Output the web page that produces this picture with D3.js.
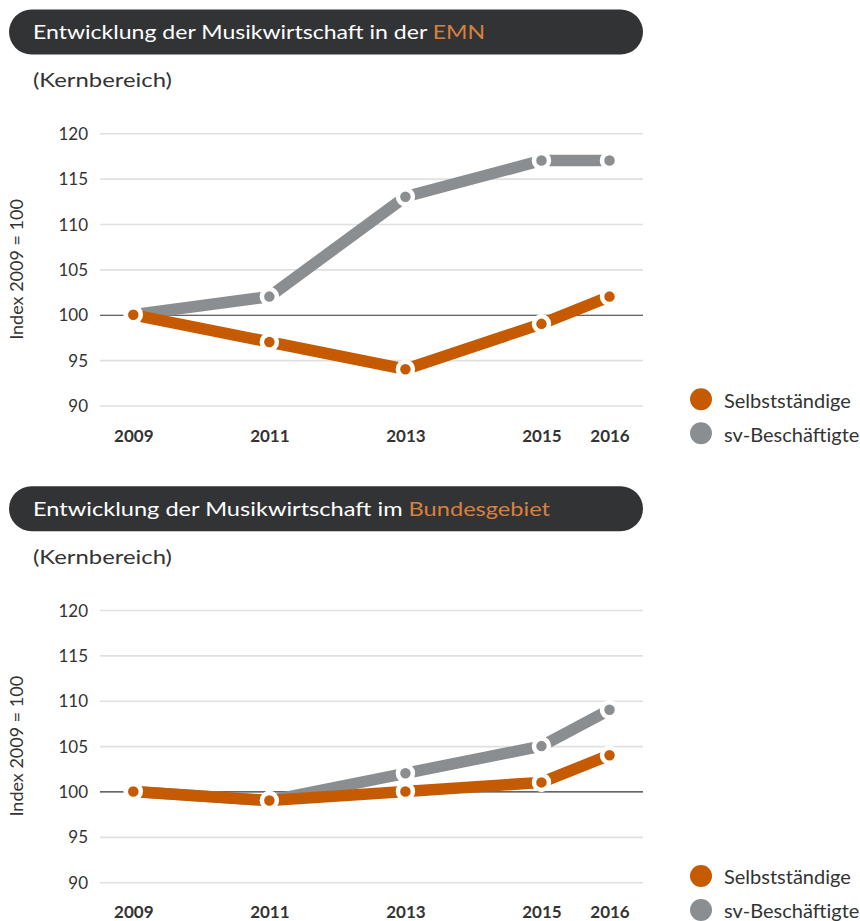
<!DOCTYPE html>
<html>
<head>
<meta charset="utf-8">
<script src="https://cdn.jsdelivr.net/npm/d3@7"></script>
<style>
  html, body { margin: 0; padding: 0; background: #fff; }
  svg { display: block; font-family: Lato, "Noto Sans", sans-serif; }
</style>
</head>
<body>
<svg id="chart" width="860" height="921"></svg>
<script>
// ---- data ----
const years = [2009, 2011, 2013, 2015, 2016];
const yTicks = [90, 95, 100, 105, 110, 115, 120];
const emnSelbst = [100, 97, 94, 99, 102];
const emnSv = [100, 102, 113, 117, 117];
const bundSelbst = [100, 99, 100, 101, 104];
const bundSv = [100, 99, 102, 105, 109];
const titleMain = ["Entwicklung der Musikwirtschaft in der ", "Entwicklung der Musikwirtschaft im "];
const titleHighlight = ["EMN", "Bundesgebiet"];
const subtitle = "(Kernbereich)";
const seriesNames = ["Selbstständige", "sv-Beschäftigte"];
const yTitle = "Index 2009 = 100";

const ORANGE = "#c55a00", GRAY = "#8b8e90", DARK = "#323335", HL = "#d8813e", TXT = "#333";
const titleWidths = [452, 517];

const svg = d3.select("#chart");
const x = d3.scaleLinear().domain([2009, 2016]).range([133.3, 609.5]);
const y = d3.scaleLinear().domain([90, 120]).range([405.5, 133.3]);

const panels = [
  { dy: 0, sets: [emnSv, emnSelbst] },
  { dy: 476.7, sets: [bundSv, bundSelbst] }
];

panels.forEach((p, i) => {
  const g = svg.append("g").attr("transform", `translate(0,${p.dy})`);

  // title pill
  g.append("rect").attr("x", 9).attr("y", 9.5).attr("width", 634).attr("height", 45)
    .attr("rx", 22.5).attr("fill", DARK);
  const t = g.append("text").attr("x", 33).attr("y", 39.3).attr("font-size", 20).attr("fill", "#fff")
    .attr("textLength", titleWidths[i]).attr("lengthAdjust", "spacingAndGlyphs");
  t.append("tspan").text(titleMain[i]);
  t.append("tspan").attr("fill", HL).text(titleHighlight[i]);

  g.append("text").attr("x", 33).attr("y", 87.3).attr("font-size", 20).attr("fill", TXT)
    .attr("textLength", 139).attr("lengthAdjust", "spacingAndGlyphs").text(subtitle);

  // y axis + grid
  const ya = g.append("g").attr("transform", "translate(100,0)")
    .call(d3.axisLeft(y).tickValues(yTicks).tickSize(-543).tickPadding(12));
  ya.select(".domain").remove();
  ya.selectAll(".tick line").attr("stroke", d => d === 100 ? "#333" : "#e0e0e0")
    .attr("stroke-width", d => d === 100 ? 1.2 : 1.6);
  ya.selectAll(".tick text").attr("font-size", 17).attr("fill", TXT)
    .attr("font-family", "Lato, sans-serif").attr("dy", "0.36em");

  // x axis labels
  const xa = g.append("g").attr("transform", "translate(0,441.5)")
    .call(d3.axisBottom(x).tickValues(years).tickFormat(d3.format("d")).tickSize(0));
  xa.select(".domain").remove();
  xa.selectAll(".tick text").attr("y", 0).attr("dy", 0).attr("font-size", 17)
    .attr("font-weight", "bold").attr("fill", TXT).attr("font-family", "Lato, sans-serif");

  // y title
  g.append("text").attr("transform", "translate(23,269.5) rotate(-90)")
    .attr("text-anchor", "middle").attr("font-size", 18).attr("fill", TXT).text(yTitle);

  // series: gray first then orange
  const line = d3.line().x((d, k) => x(years[k])).y(d => y(d));
  const cols = [GRAY, ORANGE];
  p.sets.forEach((vals, s) => {
    g.append("path").datum(vals).attr("d", line).attr("fill", "none")
      .attr("stroke", cols[s]).attr("stroke-width", 11.5).attr("stroke-linejoin", "miter");
    g.selectAll(null).data(vals).enter().append("circle")
      .attr("cx", (d, k) => x(years[k])).attr("cy", d => y(d)).attr("r", 7.5)
      .attr("fill", cols[s]).attr("stroke", "#fff").attr("stroke-width", 4.5);
  });

  // legend
  const legCols = [ORANGE, GRAY];
  seriesNames.forEach((n, s) => {
    const cy = 399.3 + s * 34;
    g.append("circle").attr("cx", 701).attr("cy", cy).attr("r", 11).attr("fill", legCols[s]);
    g.append("text").attr("x", 724).attr("y", cy + 8.3).attr("font-size", 20).attr("fill", TXT).text(n);
  });
});
</script>
</body>
</html>
